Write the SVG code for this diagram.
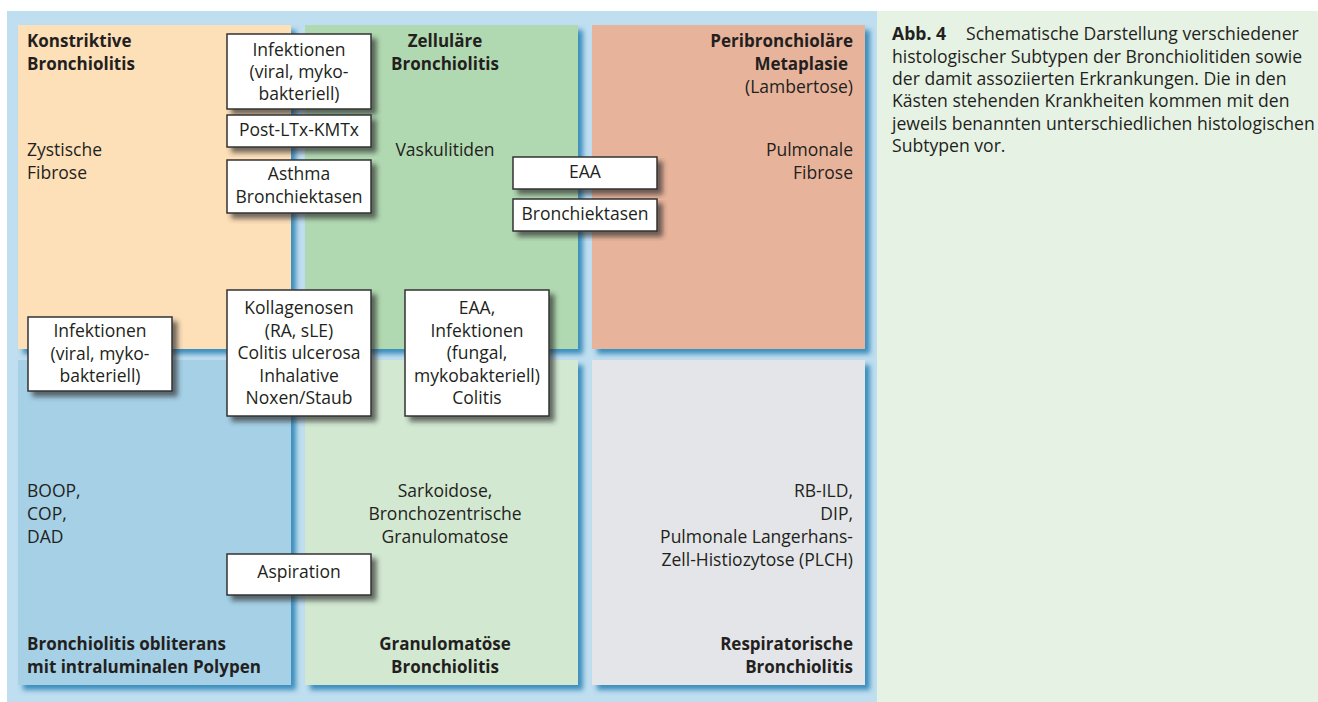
<svg xmlns="http://www.w3.org/2000/svg" width="1318" height="702" viewBox="0 0 1318 702">
<defs>
<filter id="pshadow" x="-5%" y="-5%" width="115%" height="115%">
<feGaussianBlur in="SourceAlpha" stdDeviation="2.5"/>
<feOffset dx="5" dy="5" result="b"/>
<feFlood flood-color="#2f86b8" flood-opacity="0.9"/>
<feComposite in2="b" operator="in" result="s"/>
<feMerge><feMergeNode in="s"/><feMergeNode in="SourceGraphic"/></feMerge>
</filter>
<filter id="bshadow" x="-10%" y="-10%" width="130%" height="140%">
<feGaussianBlur in="SourceAlpha" stdDeviation="2.5"/>
<feOffset dx="5" dy="5" result="b"/>
<feFlood flood-color="#2a2a2a" flood-opacity="0.65"/>
<feComposite in2="b" operator="in" result="s"/>
<feMerge><feMergeNode in="s"/><feMergeNode in="SourceGraphic"/></feMerge>
</filter>
</defs>
<style>
text{font-family:"Open Sans","Noto Sans","Liberation Sans",sans-serif;font-size:17.5px;fill:#231f20}
.b{font-weight:bold;font-size:17px}
.m{text-anchor:middle}
.e{text-anchor:end}
.box{fill:#ffffff;stroke:#333333;stroke-width:1.5;filter:url(#bshadow)}
.cap{font-size:17.6px}
</style>
<rect x="0" y="0" width="1318" height="702" fill="#ffffff"/>
<rect x="7" y="11" width="870" height="691" fill="#bfdeef"/>
<rect x="877" y="11" width="441" height="691" fill="#e6f2e4"/>

<g id="panels">
<g id="konstriktive">
<rect x="18" y="25" width="273" height="324" fill="#fddfb8" filter="url(#pshadow)"/>
<text class="b" x="27" y="47">Konstriktive</text>
<text class="b" x="27" y="70">Bronchiolitis</text>
<text x="27" y="156">Zystische</text>
<text x="27" y="179">Fibrose</text>
</g>
<g id="zellulaere">
<rect x="305" y="25" width="273" height="324" fill="#b1d9b1" filter="url(#pshadow)"/>
<text class="b m" x="445" y="47">Zelluläre</text>
<text class="b m" x="445" y="70">Bronchiolitis</text>
<text class="m" x="445" y="156">Vaskulitiden</text>
</g>
<g id="peribronchiolaere">
<rect x="592" y="25" width="273" height="324" fill="#e8b39b" filter="url(#pshadow)"/>
<text class="b e" x="853" y="47">Peribronchioläre</text>
<text class="b e" x="848" y="70">Metaplasie</text>
<text class="e" x="853" y="93">(Lambertose)</text>
<text class="e" x="853" y="156">Pulmonale</text>
<text class="e" x="853" y="179">Fibrose</text>
</g>
<g id="obliterans">
<rect x="18" y="360" width="273" height="325" fill="#a5d0e6" filter="url(#pshadow)"/>
<text x="27" y="497">BOOP,</text>
<text x="27" y="520">COP,</text>
<text x="27" y="543">DAD</text>
<text class="b" x="27" y="650">Bronchiolitis obliterans</text>
<text class="b" x="27" y="673">mit intraluminalen Polypen</text>
</g>
<g id="granulomatoese">
<rect x="305" y="360" width="273" height="325" fill="#d2e8d1" filter="url(#pshadow)"/>
<text class="m" x="445" y="497">Sarkoidose,</text>
<text class="m" x="445" y="520">Bronchozentrische</text>
<text class="m" x="445" y="543">Granulomatose</text>
<text class="b m" x="445" y="650">Granulomatöse</text>
<text class="b m" x="445" y="673">Bronchiolitis</text>
</g>
<g id="respiratorische">
<rect x="592" y="360" width="273" height="325" fill="#e4e5e8" filter="url(#pshadow)"/>
<text class="e" x="853" y="497">RB-ILD,</text>
<text class="e" x="853" y="520">DIP,</text>
<text class="e" x="853" y="543">Pulmonale Langerhans-</text>
<text class="e" x="853" y="566">Zell-Histiozytose (PLCH)</text>
<text class="b e" x="853" y="650">Respiratorische</text>
<text class="b e" x="853" y="673">Bronchiolitis</text>
</g>
</g>

<g id="connectors"></g>

<g id="box-infektionen-top">
<rect class="box" x="227" y="34" width="144" height="75"/>
<text class="m" x="299" y="56">Infektionen</text>
<text class="m" x="299" y="78">(viral, myko-</text>
<text class="m" x="299" y="100">bakteriell)</text>
</g>
<g id="box-postltx">
<rect class="box" x="227" y="115" width="144" height="32"/>
<text class="m" x="299" y="136">Post-LTx-KMTx</text>
</g>
<g id="box-asthma">
<rect class="box" x="227" y="160" width="144" height="53"/>
<text class="m" x="299" y="180">Asthma</text>
<text class="m" x="299" y="203">Bronchiektasen</text>
</g>
<g id="box-eaa">
<rect class="box" x="513" y="157" width="144" height="32"/>
<text class="m" x="585" y="178">EAA</text>
</g>
<g id="box-bronchiektasen">
<rect class="box" x="513" y="199" width="144" height="32"/>
<text class="m" x="585" y="220">Bronchiektasen</text>
</g>
<g id="box-infektionen-left">
<rect class="box" x="28" y="317" width="144" height="74"/>
<text class="m" x="100" y="337">Infektionen</text>
<text class="m" x="100" y="360">(viral, myko-</text>
<text class="m" x="100" y="382">bakteriell)</text>
</g>
<g id="box-kollagenosen">
<rect class="box" x="227" y="290" width="144" height="126"/>
<text class="m" x="299" y="314">Kollagenosen</text>
<text class="m" x="299" y="337">(RA, sLE)</text>
<text class="m" x="299" y="359">Colitis ulcerosa</text>
<text class="m" x="299" y="382">Inhalative</text>
<text class="m" x="299" y="404">Noxen/Staub</text>
</g>
<g id="box-eaa-infektionen">
<rect class="box" x="405" y="290" width="144" height="126"/>
<text class="m" x="477" y="314">EAA,</text>
<text class="m" x="477" y="337">Infektionen</text>
<text class="m" x="477" y="359">(fungal,</text>
<text class="m" x="477" y="382">mykobakteriell)</text>
<text class="m" x="477" y="404">Colitis</text>
</g>
<g id="box-aspiration">
<rect class="box" x="227" y="554" width="144" height="41"/>
<text class="m" x="299" y="578">Aspiration</text>
</g>

<g id="caption">
<text class="cap" x="892" y="40"><tspan font-weight="bold">Abb. 4</tspan><tspan x="966">Schematische Darstellung verschiedener</tspan></text>
<text class="cap" x="892" y="63">histologischer Subtypen der Bronchiolitiden sowie</text>
<text class="cap" x="892" y="85">der damit assoziierten Erkrankungen. Die in den</text>
<text class="cap" x="892" y="107">Kästen stehenden Krankheiten kommen mit den</text>
<text class="cap" x="892" y="130">jeweils benannten unterschiedlichen histologischen</text>
<text class="cap" x="892" y="152">Subtypen vor.</text>
</g>
</svg>
